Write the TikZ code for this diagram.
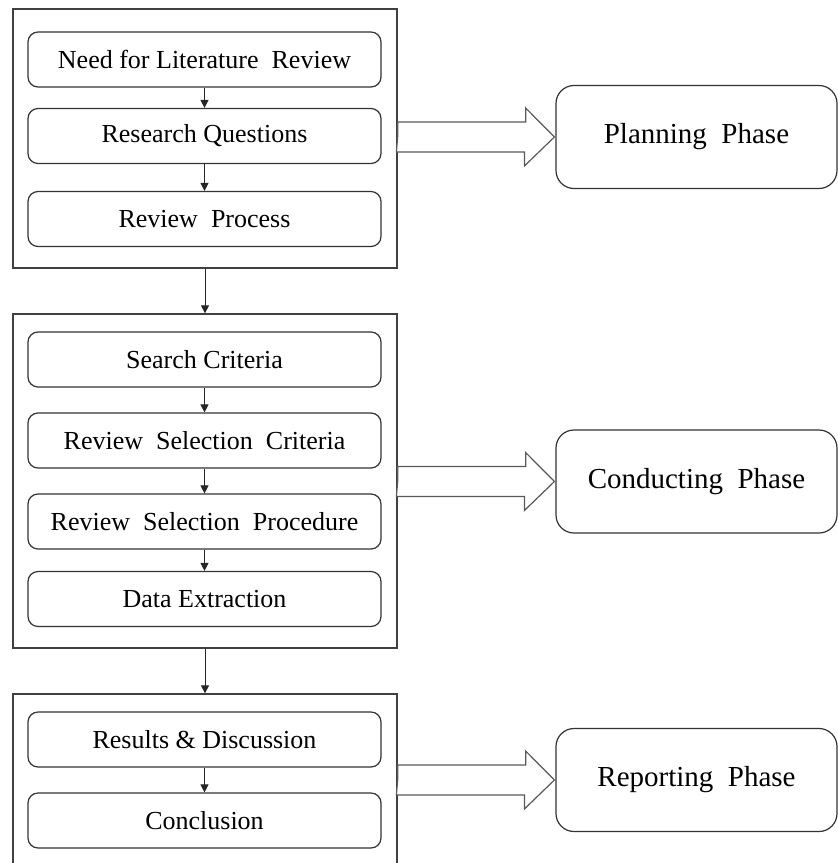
\documentclass[tikz,border=0pt]{standalone}
\usepackage{fontspec}
\setmainfont{Liberation Serif}
\usetikzlibrary{arrows.meta,calc}
\begin{document}
\begin{tikzpicture}[x=1pt,y=-1pt,
  outer/.style={draw=black!75, line width=1.3pt, minimum width=384pt, inner sep=0pt},
  inner/.style={draw=black!80, line width=1.2pt, rounded corners=10pt, minimum width=353pt, minimum height=55pt, inner sep=0pt, font=\fontsize{26}{28}\selectfont},
  phase/.style={draw=black!80, line width=1.2pt, rounded corners=18pt, minimum width=281pt, minimum height=103pt, inner sep=0pt, font=\fontsize{29}{32}\selectfont},
  flow/.style={draw=black!85, line width=1pt, -{Triangle[length=8pt,width=8pt]}},
  bigarrow/.style={draw=black!65, line width=1.2pt, fill=white, line join=miter}]
\clip (0,0) rectangle (838,863);
% outer boxes
\node[outer, minimum height=259pt] (b1) at (205,138.5) {};
\node[outer, minimum height=334pt] (b2) at (205,481) {};
\node[outer, minimum height=220pt] (b3) at (205,804) {};
% inner boxes
\node[inner] (n1) at (204.5,59.5) {Need for Literature\ \ Review};
\node[inner] (n2) at (204.5,136) {Research Questions};
\node[inner] (n3) at (204.5,219) {Review\ \ Process};
\node[inner] (s1) at (204.5,359.5) {Search Criteria};
\node[inner] (s2) at (204.5,440.5) {Review\ \ Selection\ \ Criteria};
\node[inner] (s3) at (204.5,521.5) {Review\ \ Selection\ \ Procedure};
\node[inner] (s4) at (204.5,599) {Data Extraction};
\node[inner] (r1) at (204.5,739.5) {Results \& Discussion};
\node[inner] (r2) at (204.5,820.5) {Conclusion};
% phases
\node[phase] (ph1) at (696.5,137) {Planning\ \ Phase};
\node[phase] (ph2) at (696.5,481.5) {Conducting\ \ Phase};
\node[phase] (ph3) at (696.5,780) {Reporting\ \ Phase};
% flows
\draw[flow] (n1) -- (n2);
\draw[flow] (n2) -- (n3);
\draw[flow] (b1.south) -- (b2.north);
\draw[flow] (s1) -- (s2);
\draw[flow] (s2) -- (s3);
\draw[flow] (s3) -- (s4);
\draw[flow] (b2.south) -- (b3.north);
\draw[flow] (r1) -- (r2);
% big arrows
\foreach \b/\p in {b1/ph1,b2/ph2,b3/ph3}{
  \draw[bigarrow] (\b.east |- \p.west) -- ++(0,-15) -- ++(128,0) -- ++(0,-14)
     -- ($(\p.west)+(-1,0)$) -- ++(-30,29) -- ++(0,-14) -- ++(-128,0) -- cycle;
}
\end{tikzpicture}
\end{document}
